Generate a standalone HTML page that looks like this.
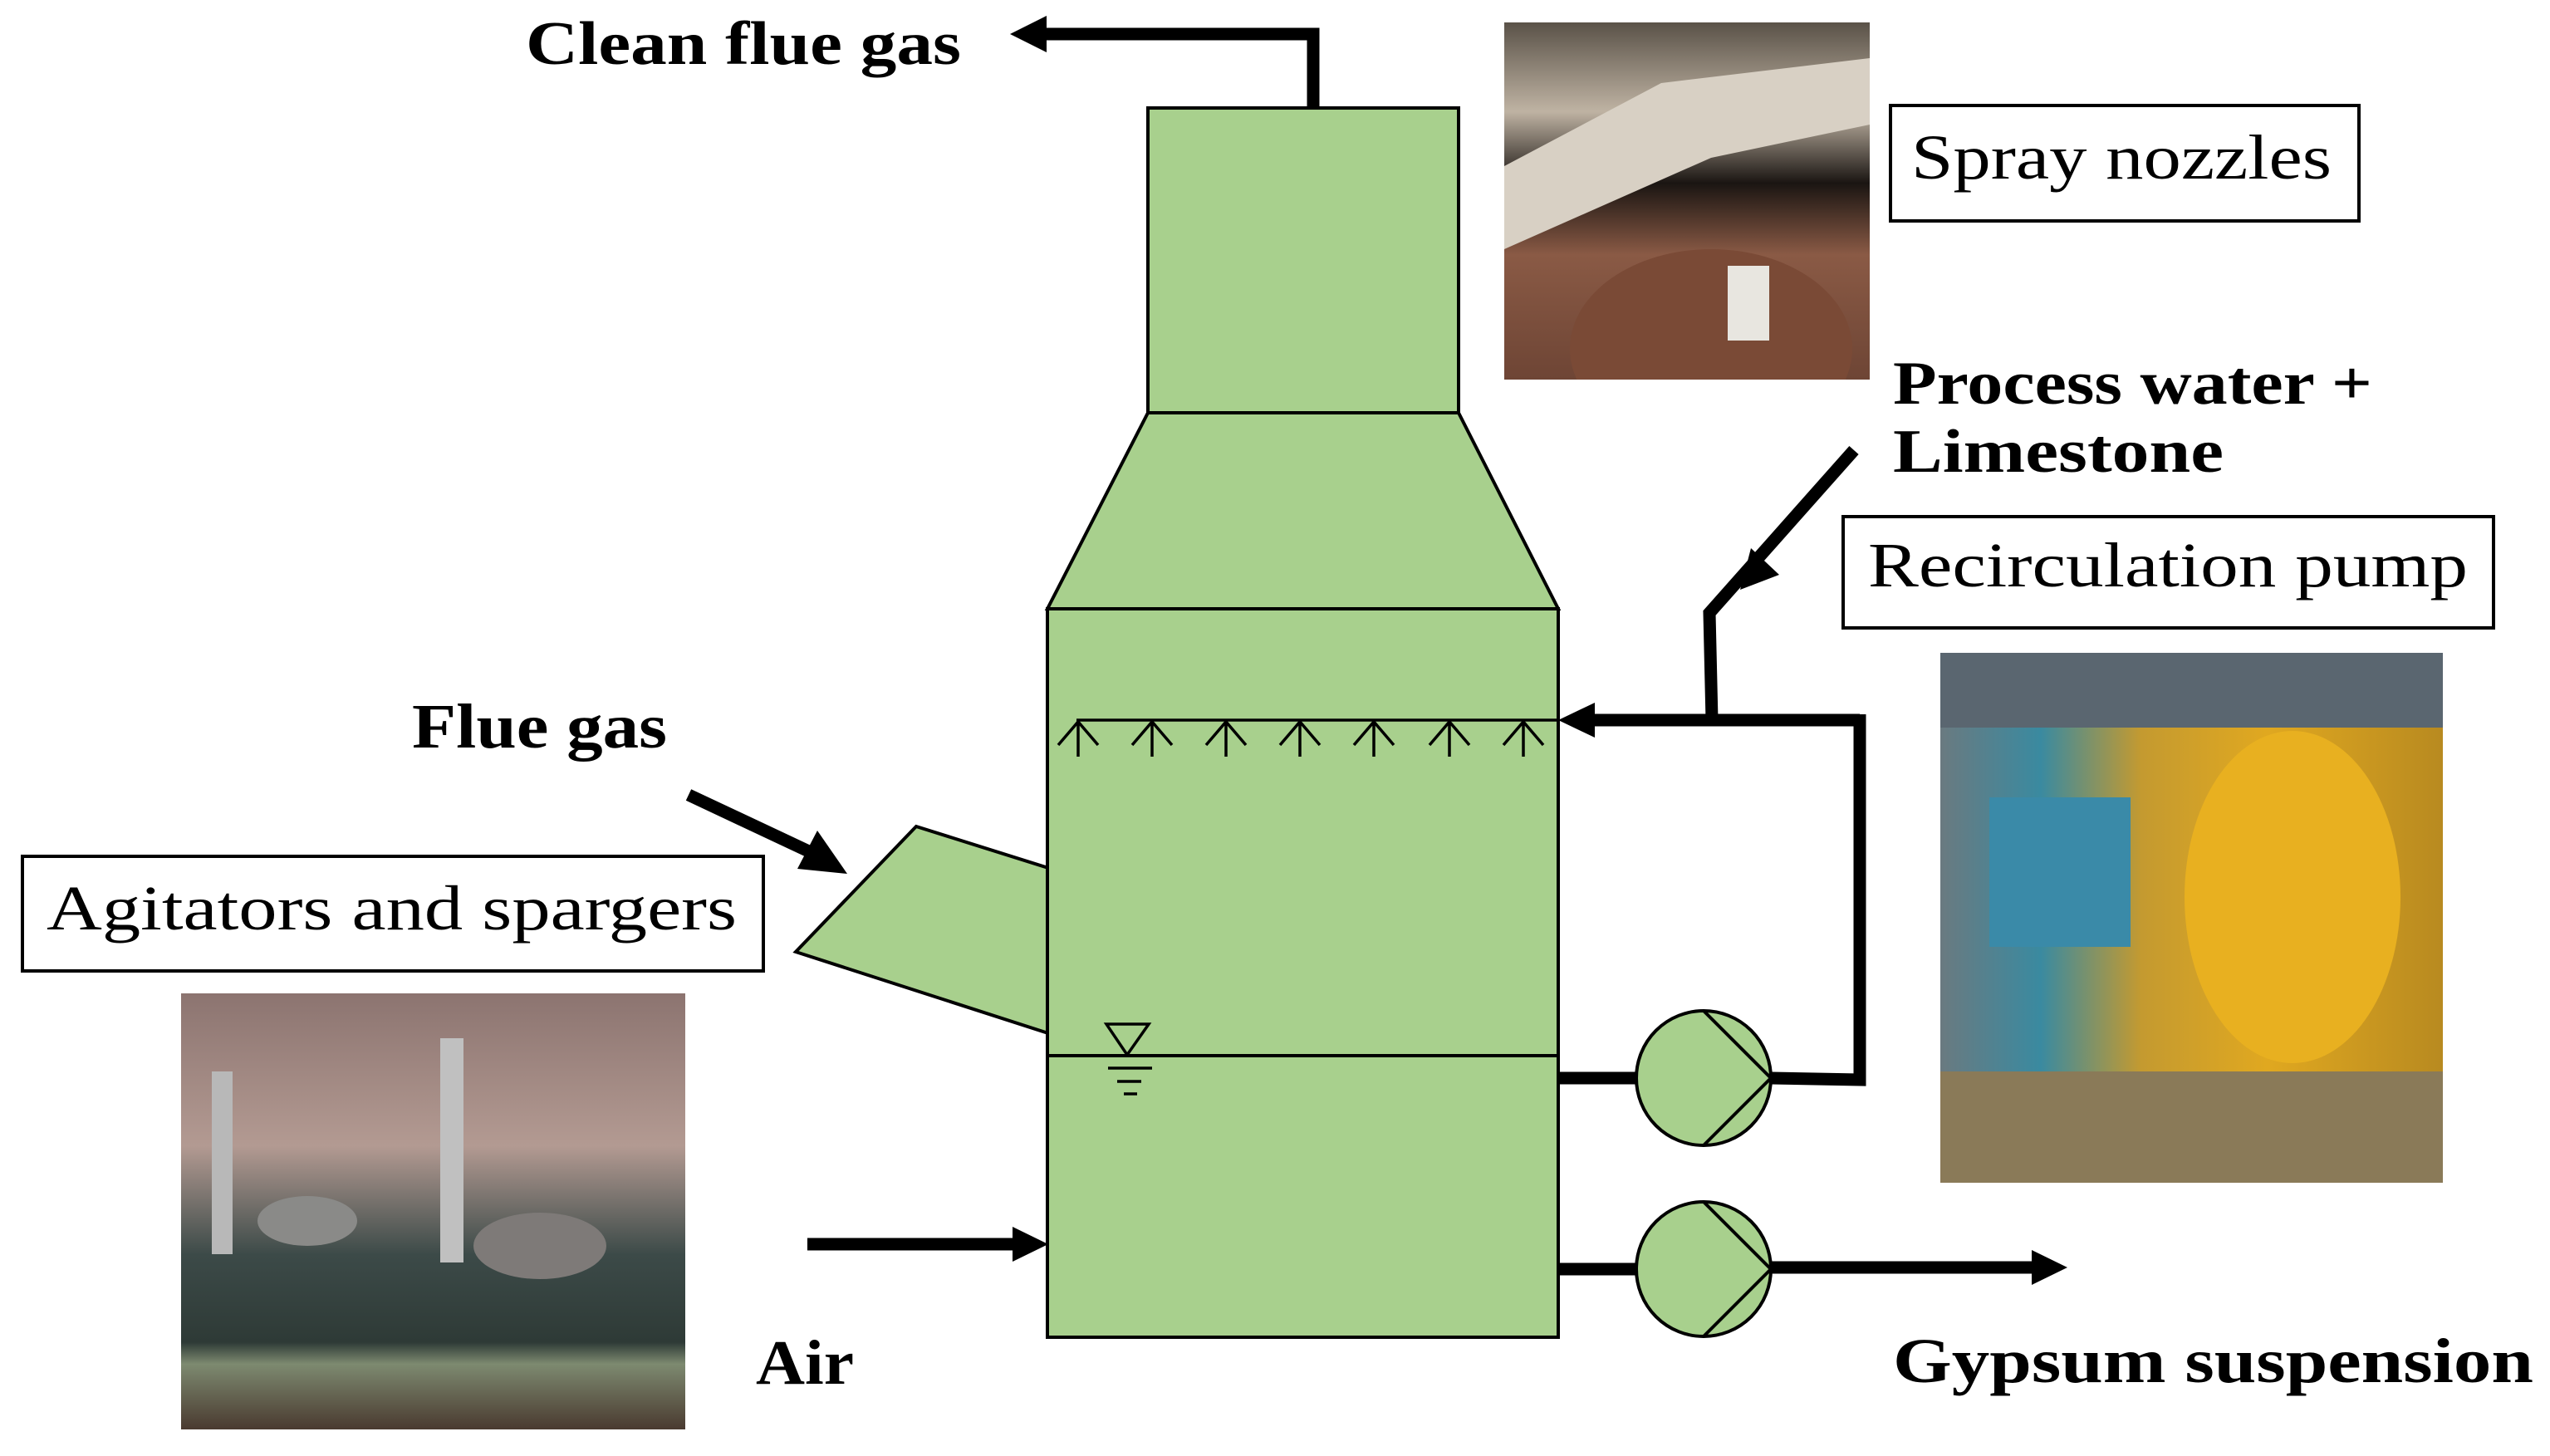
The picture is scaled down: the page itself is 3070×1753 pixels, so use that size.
<!DOCTYPE html>
<html><head><meta charset="utf-8"><style>
html,body{margin:0;padding:0;background:#fff;}
svg{display:block;}
.b{font-family:"Liberation Serif",serif;font-weight:bold;fill:#000;}
.r{font-family:"Liberation Serif",serif;fill:#000;}
</style></head><body>
<svg width="3070" height="1753" viewBox="0 0 3070 1753" xmlns="http://www.w3.org/2000/svg">
<defs>
<clipPath id="c1"><rect x="1811" y="27" width="440" height="430"/></clipPath>
<clipPath id="c2"><rect x="218" y="1196" width="607" height="525"/></clipPath>
<clipPath id="c3"><rect x="2336" y="786" width="605" height="638"/></clipPath>
<linearGradient id="sp" x1="0" y1="0" x2="0" y2="1">
<stop offset="0" stop-color="#5a5248"/><stop offset="0.25" stop-color="#bfb3a3"/><stop offset="0.45" stop-color="#1a1512"/><stop offset="0.65" stop-color="#8a5a45"/><stop offset="1" stop-color="#6e4535"/></linearGradient>
<linearGradient id="ag" x1="0" y1="0" x2="0" y2="1">
<stop offset="0" stop-color="#8c7470"/><stop offset="0.35" stop-color="#b39a92"/><stop offset="0.6" stop-color="#3c4a48"/><stop offset="0.8" stop-color="#2e3a36"/><stop offset="0.85" stop-color="#7d8a70"/><stop offset="1" stop-color="#4a3a30"/></linearGradient>
<linearGradient id="pp" x1="0" y1="0" x2="1" y2="0">
<stop offset="0" stop-color="#6a7a80"/><stop offset="0.2" stop-color="#3a8aa0"/><stop offset="0.4" stop-color="#c49a30"/><stop offset="0.65" stop-color="#e0a820"/><stop offset="1" stop-color="#b88a20"/></linearGradient>
</defs>

<!-- photos -->
<g clip-path="url(#c1)">
<rect x="1811" y="27" width="440" height="430" fill="url(#sp)"/>
<path d="M1811 200 L2000 100 L2251 70 L2251 150 L2060 190 L1811 300Z" fill="#d8d0c4"/>
<ellipse cx="2060" cy="420" rx="170" ry="120" fill="#7a4a36"/>
<rect x="2080" y="320" width="50" height="90" fill="#e8e6e0"/>
</g>
<g clip-path="url(#c2)">
<rect x="218" y="1196" width="607" height="525" fill="url(#ag)"/>
<rect x="255" y="1290" width="25" height="220" fill="#b8b8b8"/>
<rect x="530" y="1250" width="28" height="270" fill="#c0c0c0"/>
<ellipse cx="370" cy="1470" rx="60" ry="30" fill="#8a8a88"/>
<ellipse cx="650" cy="1500" rx="80" ry="40" fill="#7e7a78"/>
</g>
<g clip-path="url(#c3)">
<rect x="2336" y="786" width="605" height="638" fill="url(#pp)"/>
<rect x="2336" y="786" width="605" height="90" fill="#5a6670"/>
<rect x="2336" y="1290" width="605" height="134" fill="#8a7a58"/>
<rect x="2395" y="960" width="170" height="180" fill="#3a8aa8"/>
<ellipse cx="2760" cy="1080" rx="130" ry="200" fill="#e8b020"/>
</g>

<!-- absorber -->
<g stroke="#000" stroke-width="4" fill="#a8d08d" stroke-linejoin="miter">
<polygon points="1103,995 1262,1045 1262,1244 958,1146"/>
<rect x="1382" y="130" width="374" height="367"/>
<polygon points="1382,497 1756,497 1876,733 1261,733"/>
<rect x="1261" y="733" width="615" height="877"/>
<line x1="1261" y1="1271" x2="1876" y2="1271"/>
</g>
<!-- spray header -->
<g stroke="#000" stroke-width="3.5" fill="none">
<line x1="1296" y1="867" x2="1876" y2="867"/>
<path d="M1298 868V911M1274 897L1298 869L1322 897"/>
<path d="M1387 868V911M1363 897L1387 869L1411 897"/>
<path d="M1476 868V911M1452 897L1476 869L1500 897"/>
<path d="M1565 868V911M1541 897L1565 869L1589 897"/>
<path d="M1654 868V911M1630 897L1654 869L1678 897"/>
<path d="M1745 868V911M1721 897L1745 869L1769 897"/>
<path d="M1834 868V911M1810 897L1834 869L1858 897"/>
<polygon points="1332,1233 1383,1233 1357,1270"/>
<line x1="1334" y1="1286" x2="1387" y2="1286"/>
<line x1="1345" y1="1302" x2="1374" y2="1302"/>
<line x1="1353" y1="1317" x2="1369" y2="1317"/>
</g>

<!-- thick pipes -->
<g stroke="#000" stroke-width="15" fill="none" stroke-linejoin="miter">
<polyline points="1581,130 1581,41 1255,41"/>
<line x1="1900" y1="867" x2="2239" y2="867"/>
<polyline points="2132,1298 2239,1300 2239,860"/>
<polyline points="2061,867 2058,738 2232,542"/>
<line x1="1876" y1="1298" x2="1972" y2="1298"/>
<line x1="1876" y1="1528" x2="1972" y2="1528"/>
<line x1="2132" y1="1526" x2="2450" y2="1526"/>
<line x1="829" y1="957" x2="980" y2="1028"/>
<line x1="972" y1="1498" x2="1225" y2="1498"/>
</g>
<g fill="#000">
<polygon points="1216,41 1260,19 1260,63"/>
<polygon points="1876,867 1920,846 1920,888"/>
<polygon points="2489,1526 2446,1505 2446,1547"/>
<polygon points="1262,1498 1219,1477 1219,1519"/>
<polygon points="1020,1052 960,1046 984,1000"/>
<polygon points="2095,710 2108,660 2142,692"/>
</g>

<!-- pumps -->
<g stroke="#000" stroke-width="4" fill="#a8d08d">
<circle cx="2051" cy="1298" r="81"/>
<polyline points="2051,1217 2132,1298 2051,1379" fill="none"/>
<circle cx="2051" cy="1528" r="81"/>
<polyline points="2051,1447 2132,1528 2051,1609" fill="none"/>
</g>

<!-- labels -->
<g fill="#fff" stroke="#000" stroke-width="4">
<rect x="27" y="1031" width="892" height="138"/>
<rect x="2276" y="127" width="564" height="139"/>
<rect x="2219" y="622" width="783" height="134"/>
</g>
<text class="r" x="56" y="1119" font-size="76" textLength="831" lengthAdjust="spacingAndGlyphs">Agitators and spargers</text>
<text class="r" x="2301" y="215" font-size="76" textLength="506" lengthAdjust="spacingAndGlyphs">Spray nozzles</text>
<text class="r" x="2249" y="706" font-size="76" textLength="722" lengthAdjust="spacingAndGlyphs">Recirculation pump</text>
<text class="b" x="633" y="77" font-size="74" textLength="524" lengthAdjust="spacingAndGlyphs">Clean flue gas</text>
<text class="b" x="496" y="900" font-size="76" textLength="307" lengthAdjust="spacingAndGlyphs">Flue gas</text>
<text class="b" x="2279" y="486" font-size="74" textLength="577" lengthAdjust="spacingAndGlyphs">Process water +</text>
<text class="b" x="2279" y="568" font-size="74" textLength="398" lengthAdjust="spacingAndGlyphs">Limestone</text>
<text class="b" x="910" y="1666" font-size="76" textLength="118" lengthAdjust="spacingAndGlyphs">Air</text>
<text class="b" x="2279" y="1664" font-size="76" textLength="771" lengthAdjust="spacingAndGlyphs">Gypsum suspension</text>
</svg>
</body></html>
